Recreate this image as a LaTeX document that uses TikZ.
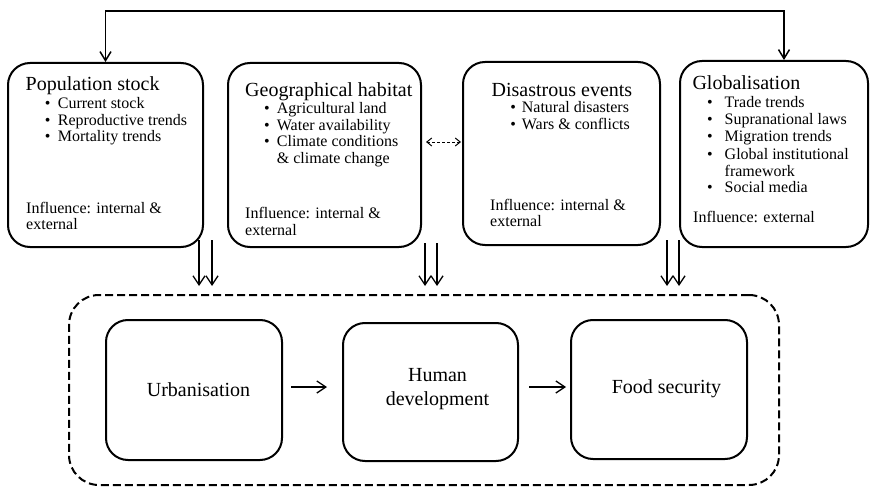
\documentclass[tikz,border=0pt]{standalone}
\usepackage{fontspec}
\setmainfont{Liberation Serif}
\usetikzlibrary{arrows.meta,calc}
% bullet hung to the left of the item text, #1 = gap before the text
\newcommand\itemdot[1]{\llap{\textbullet\hspace{#1}}}

\begin{document}
\begin{tikzpicture}[x=1pt,y=-1pt,
  panel/.style={draw, line width=2pt, rounded corners=22pt, inner sep=0pt},
  outcome/.style={draw, line width=2pt, rounded corners=22pt, inner sep=0pt},
  corebox/.style={draw, line width=2pt, dash pattern=on 8pt off 4pt, rounded corners=30pt, inner sep=0pt},
  heading/.style={anchor=base west, inner sep=0pt, font=\fontsize{20}{24}\selectfont},
  entry/.style={anchor=base west, inner sep=0pt, font=\fontsize{16}{18}\selectfont},
  bigtext/.style={anchor=base, inner sep=0pt, font=\fontsize{20}{24}\selectfont},
  barb/.tip={Straight Barb[length=9pt,width=12pt]},
  flow/.style={line width=1.3pt, -barb},
  loopline/.style={line width=1.5pt, {Straight Barb[length=9pt,width=11pt]}-{Straight Barb[length=9pt,width=11pt]}},
  mutual/.style={line width=1pt, dash pattern=on 3pt off 2pt,
    {Straight Barb[length=5pt,width=8pt]}-{Straight Barb[length=5pt,width=8pt]}},
]
\useasboundingbox (0,0) rectangle (871,487);

% ---- influencing factors ----
\node[panel, minimum width=195pt, minimum height=184pt] (pop)  at (105.5,155) {};
\node[panel, minimum width=193pt, minimum height=184pt] (geo)  at (324.5,155) {};
\node[panel, minimum width=197pt, minimum height=183pt] (dis)  at (561.5,153.5) {};
\node[panel, minimum width=188pt, minimum height=186pt] (glob) at (774,154) {};

% Population stock
\node[heading] (popT) at (25.5,91) {Population stock};
\node[entry] (pop1) at (57.7,108.3) {\itemdot{7.5pt}Current stock};
\node[entry] (pop2) at (57.7,125.3) {\itemdot{7.5pt}Reproductive trends};
\node[entry] (pop3) at (57.7,142) {\itemdot{7.5pt}Mortality trends};
\node[entry] (popI1) at (26,213) {Influence: internal \&};
\node[entry] (popI2) at (26,229.5) {external};

% Geographical habitat
\node[heading] (geoT) at (245,96.5) {Geographical habitat};
\node[entry] (geo1) at (276.7,113.3) {\itemdot{7.2pt}Agricultural land};
\node[entry] (geo2) at (276.7,130) {\itemdot{7.2pt}Water availability};
\node[entry] (geo3) at (276.7,146.7) {\itemdot{7.2pt}Climate conditions};
\node[entry] (geo4) at (276.7,164) {\& climate change};
\node[entry] (geoI1) at (245,218) {Influence: internal \&};
\node[entry] (geoI2) at (245,235) {external};

% Disastrous events
\node[heading] (disT) at (491.5,96.3) {Disastrous events};
\node[entry] (dis1) at (521.7,113) {\itemdot{5.9pt}Natural disasters};
\node[entry] (dis2) at (521.7,129.7) {\itemdot{5.9pt}Wars \& conflicts};
\node[entry] (disI1) at (490,210) {Influence: internal \&};
\node[entry] (disI2) at (490,226.7) {external};

% Globalisation
\node[heading] (globT) at (692.3,89.3) {Globalisation};
\node[entry] (glob1) at (724.5,107) {\itemdot{12pt}Trade trends};
\node[entry] (glob2) at (724.5,124.7) {\itemdot{12pt}Supranational laws};
\node[entry] (glob3) at (724.5,142) {\itemdot{12pt}Migration trends};
\node[entry] (glob4) at (724.5,159.3) {\itemdot{12pt}Global institutional};
\node[entry] (glob5) at (724.5,176) {framework};
\node[entry] (glob6) at (724.5,192.7) {\itemdot{12pt}Social media};
\node[entry] (globI) at (693,222.7) {Influence: external};

% ---- outcomes ----
\node[corebox, minimum width=710pt, minimum height=190pt] (core) at (424,390) {};
\node[outcome, minimum width=176pt, minimum height=140pt] (urb) at (194,390) {};
\node[outcome, minimum width=175pt, minimum height=138pt] (hd)  at (430.5,392) {};
\node[outcome, minimum width=176pt, minimum height=139pt] (fs)  at (659,389.5) {};

\node[bigtext] (urbT) at (198.5,396.5) {Urbanisation};
\node[bigtext] (hdT1) at (437.5,381.5) {Human};
\node[bigtext] (hdT2) at (437.5,405) {development};
\node[bigtext] (fsT)  at (666.5,393) {Food security};

% ---- connectors ----
\coordinate (turnR) at (784,11);
\draw[loopline] (pop.north) |- (turnR) -- (turnR |- glob.north);

\coordinate (midrow) at (0,142);
\draw[mutual] ($(geo.east |- midrow)+(4,0)$) -- ($(dis.west |- midrow)+(-1,0)$);

\coordinate (d1a) at (199,240);
\coordinate (d1b) at (212,240);
\coordinate (d2a) at (425,243);
\coordinate (d2b) at (437,243);
\coordinate (d3a) at (667,240);
\coordinate (d3b) at (679,240);
\foreach \s in {d1a,d1b,d2a,d2b,d3a,d3b}
  \draw[flow, shorten >=8pt] (\s) -- (\s |- core.north);

\coordinate (h1) at (291,387);
\coordinate (h2) at (529,387);
\draw[flow, shorten >=15pt] (h1) -- (h1 -| hd.west);
\draw[flow, shorten >=4pt] (h2) -- (h2 -| fs.west);
\end{tikzpicture}
\end{document}
